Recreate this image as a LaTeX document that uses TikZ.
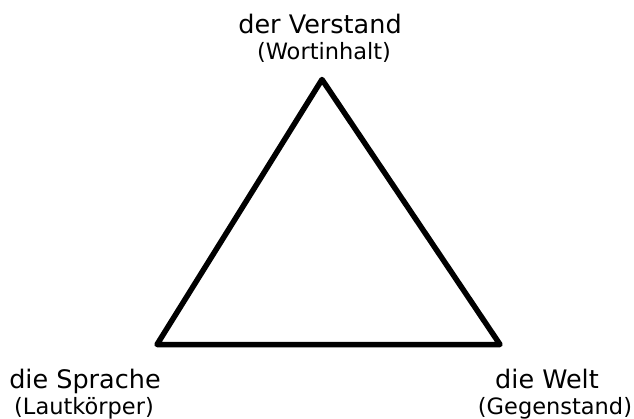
\documentclass[tikz,border=0pt]{standalone}
\usepackage{fontspec}
\setmainfont{DejaVu Sans}
\usetikzlibrary{positioning}

\begin{document}
\begin{tikzpicture}[
x=1pt, y=-1pt,
    bigword/.style={font=\fontsize{25.5}{28}\selectfont, inner sep=0pt, anchor=base},
    smallword/.style={font=\fontsize{22.5}{25}\selectfont, inner sep=0pt, anchor=base},
    side/.style={draw, line width=5.5pt, line join=round}
]
    \useasboundingbox (0,0) rectangle (634,419);

    % Corners
    \coordinate (verstand) at (322,79.5);
    \coordinate (sprache) at (157,344.5);
    \coordinate (welt) at (500,344.5);

    % Labels
    \node[bigword] (verstandtxt) at (320,34) {der Verstand};
    \node[smallword] (verstandsub) at (324,60) {(Wortinhalt)};
    \node[bigword] (sprachetxt) at (85,388) {die Sprache};
    \node[smallword] (sprachesub) at (84,414) {(Lautkörper)};
    \node[bigword] (welttxt) at (547,388) {die Welt};
    \node[smallword] (weltsub) at (555,414) {(Gegenstand)};

    % Triangle
    \draw[side] (verstand) -- (sprache) -- (welt) -- cycle;

\end{tikzpicture}
\end{document}
